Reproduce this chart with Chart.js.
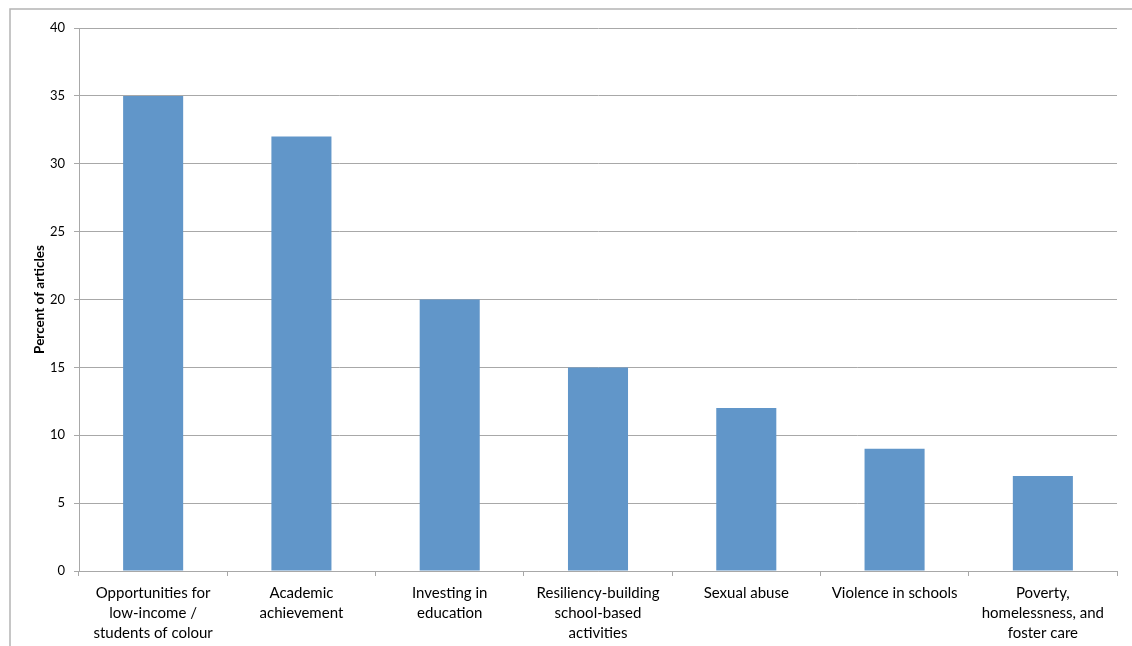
<!DOCTYPE html>
<html>
<head>
<meta charset="utf-8">
<script src="https://cdn.jsdelivr.net/npm/chart.js@4/dist/chart.umd.min.js"></script>
<style>
  html, body { margin: 0; padding: 0; background: #fff; }
  #wrap { width: 1132px; height: 646px; position: relative; }
</style>
</head>
<body>
<div id="wrap"><canvas id="grafico"></canvas></div>
<script>
// categorias (rótulos do eixo x, quebrados em linhas)
const categorias = [
  ['Opportunities for', 'low-income /', 'students of colour'],
  ['Academic', 'achievement'],
  ['Investing in', 'education'],
  ['Resiliency-building', 'school-based', 'activities'],
  ['Sexual abuse'],
  ['Violence in schools'],
  ['Poverty,', 'homelessness, and', 'foster care']
];
const percentuais = [35, 32, 20, 15, 12, 9, 7];
const tituloEixoY = 'Percent of articles';

const corGrade = '#a8a8a8';
const fonte = 'Lato, "Open Sans", sans-serif';

// moldura externa (borda do gráfico que sai da área visível)
const moldura = {
  id: 'moldura',
  beforeDraw(chart) {
    const ctx = chart.ctx;
    ctx.save();
    ctx.strokeStyle = '#b4b4b4';
    ctx.lineWidth = 1.5;
    ctx.beginPath();
    ctx.moveTo(10, chart.height + 5);
    ctx.lineTo(10, 9);
    ctx.lineTo(chart.width + 5, 9);
    ctx.stroke();
    ctx.restore();
  }
};

new Chart(document.getElementById('grafico'), {
  type: 'bar',
  data: {
    labels: categorias,
    datasets: [{
      data: percentuais,
      backgroundColor: '#6196c9',
      borderWidth: 0,
      barPercentage: 0.405,
      categoryPercentage: 1
    }]
  },
  options: {
    responsive: true,
    maintainAspectRatio: false,
    animation: false,
    layout: { padding: { top: 28, right: 15, bottom: 0, left: 0 } },
    plugins: {
      legend: { display: false },
      tooltip: { enabled: false }
    },
    scales: {
      x: {
        grid: {
          offset: true,
          drawOnChartArea: false,
          drawTicks: true,
          tickLength: 5,
          color: corGrade
        },
        border: { color: corGrade, width: 1 },
        ticks: {
          color: '#000',
          font: { family: fonte, size: 15, lineHeight: 1.33 },
          maxRotation: 0,
          autoSkip: false,
          padding: 7
        },
        afterFit(scale) { scale.height = 75; }
      },
      y: {
        min: 0,
        max: 40,
        ticks: {
          stepSize: 5,
          color: '#000',
          font: { family: fonte, size: 13 },
          padding: 9
        },
        grid: {
          color: corGrade,
          lineWidth: 1,
          tickLength: 5
        },
        border: { color: corGrade, width: 1 },
        title: {
          display: true,
          text: tituloEixoY,
          color: '#000',
          font: { family: fonte, size: 13.5, weight: 'bold' },
          padding: { top: 32, bottom: 0 }
        },
        afterFit(scale) { scale.width = 79; }
      }
    }
  },
  plugins: [moldura]
});
</script>
</body>
</html>
